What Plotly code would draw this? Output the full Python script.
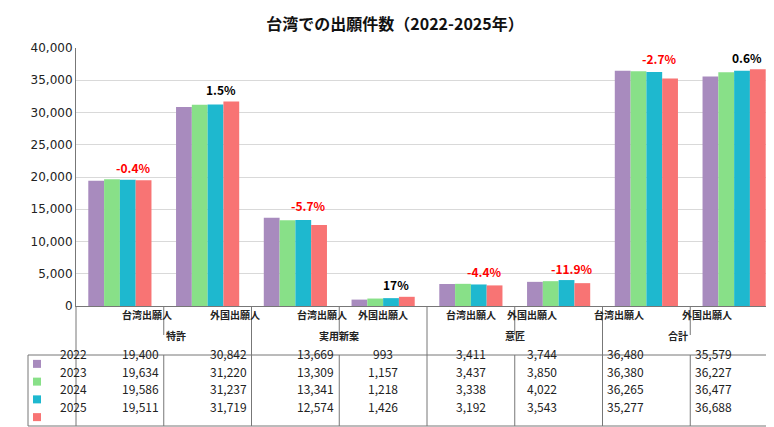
import plotly.graph_objects as go

years = ['2022', '2023', '2024', '2025']
applicants = ['台湾出願人', '外国出願人'] * 4
groups = ['特許', '実用新案', '意匠', '合計']
v2022 = [19400, 30842, 13669, 993, 3411, 3744, 36480, 35579]
v2023 = [19634, 31220, 13309, 1157, 3437, 3850, 36380, 36227]
v2024 = [19586, 31237, 13341, 1218, 3338, 4022, 36265, 36477]
v2025 = [19511, 31719, 12574, 1426, 3192, 3543, 35277, 36688]
changes = ['-0.4%', '1.5%', '-5.7%', '17%', '-4.4%', '-11.9%', '-2.7%', '0.6%']
colors = ['#A88BBE', '#88E088', '#1EB8CF', '#F87474']

W, H = 774, 427
L, R, T, B = 68, 4, 40, 129
series = [v2022, v2023, v2024, v2025]
PW = W - L - R
PH = H - T - B


# pixel -> paper coordinates (paper is the plot area)
def px_x(p):
    return (p - L) / PW


def px_y(p):
    return (H - B - p) / PH


fig = go.Figure()
xs = list(range(8))
for yr, vals, c in zip(years, series, colors):
    fig.add_trace(go.Bar(x=xs, y=vals, name=yr, marker_color=c,
                         marker_line_width=0, showlegend=False))

# percent change labels
for i, txt in enumerate(changes):
    top = max(s[i] for s in series)
    fig.add_annotation(x=i + 0.15, y=top, text='<b>%s</b>' % txt, showarrow=False,
                       yshift=12, font=dict(size=12, color='red' if txt.startswith('-') else 'black'))

shapes = []
annos = []
line = dict(color='#777777', width=1)
cw = PW / 8
x0 = L
xr = W - R
# row boundaries (pixels)
y_axis, y_sub, y_grp, y_end = 299, 327, 347, 418
row_h = (y_end - y_grp) / 4


def hline(xa, xb, y):
    shapes.append(dict(type='line', xref='paper', yref='paper', x0=px_x(xa), x1=px_x(xb),
                       y0=px_y(y), y1=px_y(y), line=line))


def vline(x, ya, yb):
    shapes.append(dict(type='line', xref='paper', yref='paper', x0=px_x(x), x1=px_x(x),
                       y0=px_y(ya), y1=px_y(yb), line=line))


hline(20, xr, y_grp)
hline(20, xr, y_end)
vline(20, y_grp, y_end)
vline(x0, y_axis, y_end)
vline(xr, y_axis, y_end)
for k in range(1, 8):
    xb = x0 + k * cw
    if k % 2 == 0:
        vline(xb, y_axis, y_end)
    else:
        vline(xb, y_axis, y_sub)
        vline(xb, y_grp, y_end)

for k in range(8):
    annos.append(dict(x=px_x(x0 + (k + 0.5) * cw), y=px_y(316), text='<b>%s</b>' % applicants[k]))
for g in range(4):
    annos.append(dict(x=px_x(x0 + (2 * g + 1) * cw), y=px_y(337), text='<b>%s</b>' % groups[g]))
for r, (yr, vals, c) in enumerate(zip(years, series, colors)):
    yc = y_grp + (r + 0.5) * row_h
    annos.append(dict(x=px_x(50), y=px_y(yc), text=yr, font=dict(size=12, color='#222')))
    shapes.append(dict(type='rect', xref='paper', yref='paper', x0=px_x(25), x1=px_x(33),
                       y0=px_y(yc + 4), y1=px_y(yc - 4), fillcolor=c, line_width=0))
    for k in range(8):
        annos.append(dict(x=px_x(x0 + (k + 0.5) * cw), y=px_y(yc), text='{:,}'.format(vals[k]),
                          font=dict(size=12, color='#222')))
for a in annos:
    a.setdefault('font', dict(size=10, color='#222'))
    fig.add_annotation(xref='paper', yref='paper', showarrow=False, **a)

fig.update_layout(
    width=W, height=H, margin=dict(l=L, r=R, t=T, b=B),
    paper_bgcolor='white', plot_bgcolor='white',
    font=dict(family='Noto Sans CJK JP, Verdana, sans-serif', size=12, color='#222'),
    title=dict(text='<b>台湾での出願件数（2022-2025年）</b>', x=0.5, xanchor='center', y=0.975,
               font=dict(size=16, color='#111')),
    bargap=0.28, bargroupgap=0.0, shapes=shapes,
)
fig.update_xaxes(range=[-0.5, 7.5], showticklabels=False, showline=True,
                 linecolor='#777', ticks='')
fig.update_yaxes(range=[0, 40000], dtick=5000, tickformat=',', showgrid=True,
                 gridcolor='#D9D9D9', showline=True, linecolor='#777',
                 tickfont=dict(size=12, family='Verdana, DejaVu Sans'))

fig.write_html('out.html')
